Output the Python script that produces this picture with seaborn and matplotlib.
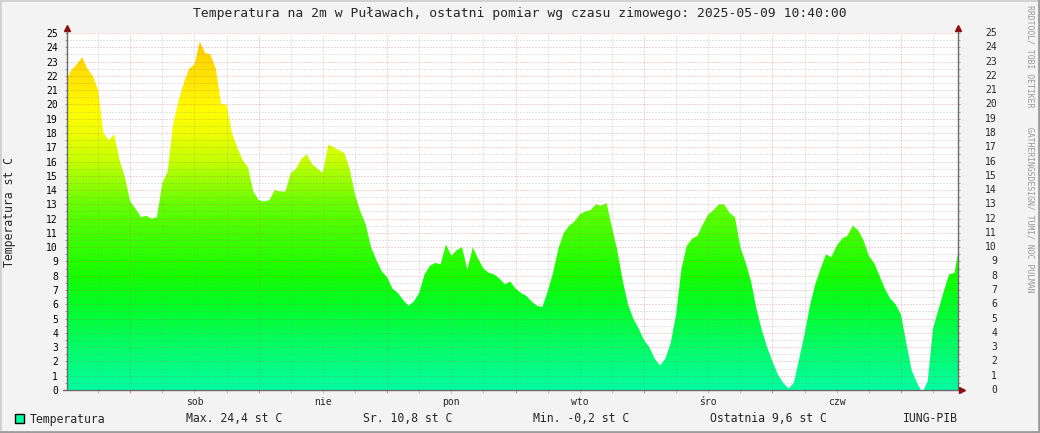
import numpy as np
import pandas as pd
import matplotlib
matplotlib.use("Agg")
import matplotlib.pyplot as plt
import matplotlib.transforms as mtransforms
from matplotlib.colors import LinearSegmentedColormap
from matplotlib.lines import Line2D
from matplotlib.patches import Rectangle
import seaborn as sns

# hourly temperature readings (st C), Fri 12:00 -> Fri 10:00, plus last reading at 10:40
fri_pm = [21.7, 22.4, 22.8, 23.3, 22.5, 22.0, 21.0, 18.0, 17.5, 17.9, 16.1, 14.9]
sat = [13.2, 12.7, 12.1, 12.2, 12.0, 12.1, 14.5, 15.3, 18.6, 20.2, 21.5, 22.5,
       22.8, 24.4, 23.6, 23.5, 22.5, 20.0, 20.0, 18.0, 17.0, 16.1, 15.6, 13.9]
sun = [13.3, 13.2, 13.3, 14.0, 13.9, 13.9, 15.2, 15.5, 16.2, 16.5, 15.8, 15.5,
       15.2, 17.2, 17.0, 16.8, 16.6, 15.5, 13.7, 12.5, 11.6, 10.0, 9.1, 8.3]
mon = [7.9, 7.1, 6.8, 6.3, 5.9, 6.2, 6.8, 8.1, 8.7, 8.9, 8.8, 10.2,
       9.4, 9.8, 10.0, 8.4, 10.0, 9.2, 8.5, 8.2, 8.1, 7.8, 7.4, 7.6]
tue = [7.1, 6.8, 6.6, 6.2, 5.9, 5.8, 6.9, 8.2, 9.9, 11.0, 11.5, 11.8,
       12.3, 12.5, 12.6, 13.0, 12.9, 13.1, 11.4, 9.8, 7.7, 6.0, 5.0, 4.3]
wed = [3.5, 3.0, 2.2, 1.7, 2.2, 3.3, 5.3, 8.5, 10.1, 10.6, 10.8, 11.6,
       12.3, 12.6, 13.0, 13.0, 12.4, 12.1, 10.0, 8.9, 7.6, 5.7, 4.2, 3.0]
thu = [2.0, 1.1, 0.5, 0.1, 0.5, 2.2, 3.9, 5.9, 7.4, 8.5, 9.5, 9.3,
       10.1, 10.6, 10.8, 11.5, 11.2, 10.5, 9.4, 8.9, 8.0, 7.1, 6.4, 6.0]
fri_am = [5.3, 3.3, 1.4, 0.5, -0.2, 0.6, 4.3, 5.6, 6.9, 8.1, 8.2]
last_time = "2025-05-09 10:40"
last_temp = 9.6

day_labels = ["sob", "nie", "pon", "wto", "śro", "czw"]
y_ticks = list(range(0, 26))

title = "Temperatura na 2m w Puławach, ostatni pomiar wg czasu zimowego: 2025-05-09 10:40:00"
legend_items = [("Temperatura", 30), ("Max. 24,4 st C", 186), ("Sr. 10,8 st C", 363),
                ("Min. -0,2 st C", 533), ("Ostatnia 9,6 st C", 710), ("IUNG-PIB", 903)]

temps = fri_pm + sat + sun + mon + tue + wed + thu + fri_am + [last_temp]
times = pd.date_range("2025-05-02 12:00", periods=len(temps) - 1, freq="h")
times = times.append(pd.DatetimeIndex([last_time]))
sat_midnight = pd.Timestamp("2025-05-03 00:00")
hours = np.asarray((times - sat_midnight) / pd.Timedelta(hours=1))
df = pd.DataFrame({"h": hours, "t": temps})

sns.set_theme(style="white")
plt.rcParams["font.family"] = ["DejaVu Sans Mono", "DejaVu Sans"]

W, H = 1040, 433
fig = plt.figure(figsize=(W / 100, H / 100), dpi=100, facecolor="#f3f3f3")
L, R, T, B = 67, 958, 33, 390
ax = fig.add_axes([L / W, 1 - B / H, (R - L) / W, (B - T) / H])
ax.set_facecolor("white")

x0 = (pd.Timestamp("2025-05-02 12:11") - sat_midnight) / pd.Timedelta(hours=1)
x1 = hours[-1]

sns.lineplot(data=df, x="h", y="t", ax=ax, linewidth=0)

# gradient fill clipped to the area under the curve
cmap = LinearSegmentedColormap.from_list("temp", [
    (0 / 25, "#00ffa0"), (3 / 25, "#00ff66"), (6 / 25, "#00ff22"), (8 / 25, "#14ff00"),
    (11 / 25, "#44ff00"), (13 / 25, "#66ff00"), (16 / 25, "#c4ff00"), (18 / 25, "#eeff00"),
    (19.5 / 25, "#ffff00"), (21 / 25, "#ffee00"), (23 / 25, "#ffd800"), (25 / 25, "#ffc800")])
poly = ax.fill_between(df["h"], df["t"], -1, color="none", lw=0)
grad = np.linspace(0, 1, 500).reshape(-1, 1)
img = ax.imshow(grad, extent=[x0, x1, 0, 25], origin="lower", aspect="auto",
                cmap=cmap, interpolation="nearest", zorder=1)
img.set_clip_path(poly.get_paths()[0], transform=ax.transData)

ax.set_xlim(x0, x1)
ax.set_ylim(0, 25)
ax.set_xlabel("")
ax.set_ylabel("")

# grid
ax.set_xticks(np.arange(0, 145, 24))
ax.set_xticks(np.arange(-6, 155, 6), minor=True)
ax.set_yticks(y_ticks)
ax.set_yticks(np.arange(0.5, 25, 1), minor=True)
ax.set_xticklabels([])
ax.set_axisbelow(False)
ax.grid(which="major", color="#cc5555", alpha=0.5, lw=0.72, ls=(0, (1, 2)), zorder=3)
ax.grid(which="minor", color="#888888", alpha=0.45, lw=0.72, ls=(0, (1, 2)), zorder=3)
ax.tick_params(axis="x", which="major", direction="out", length=2.5, width=0.72,
               color="#e08080", bottom=True)
ax.tick_params(axis="x", which="minor", direction="out", length=2.5, width=0.72,
               color="#bbbbbb", bottom=True)
ax.tick_params(axis="y", which="both", direction="out", length=1.5, width=0.72,
               color="#999999", left=True, right=True, labelsize=7, pad=5,
               labelcolor="black")
for s in ax.spines.values():
    s.set_visible(False)

# right side labels
tr = mtransforms.blended_transform_factory(fig.transFigure, ax.transData)
for v in y_ticks:
    ax.text(997 / W, v, str(v), transform=tr, ha="right", va="center", fontsize=7)

# axis lines with arrows
ac = "#6a6a6a"
ext = 5 / (B - T)
ax.plot([0, 0], [0, 1 + ext], transform=ax.transAxes, color=ac, lw=1, clip_on=False, zorder=5)
ax.plot([1, 1], [0, 1 + ext], transform=ax.transAxes, color=ac, lw=1, clip_on=False, zorder=5)
ax.plot([-4 / (R - L), 1 + 3 / (R - L)], [0, 0], transform=ax.transAxes, color=ac, lw=1,
        clip_on=False, zorder=5)
for xa in (0, 1):
    ax.plot([xa], [1 + ext], marker="^", ms=4.5, color="#8b1010", transform=ax.transAxes,
            clip_on=False, zorder=6)
ax.plot([1 + 4 / (R - L)], [0], marker=">", ms=4.5, color="#8b1010", transform=ax.transAxes,
        clip_on=False, zorder=6)

# day labels at noon
dtr = mtransforms.blended_transform_factory(ax.transData, fig.transFigure)
for i, lab in enumerate(day_labels):
    ax.text(12 + 24 * i, 1 - 402 / H, lab, transform=dtr, ha="center", va="center", fontsize=7)

fig.text(0.5, 1 - 13 / H, title, ha="center", va="center", fontsize=9.4)
fig.text(10 / W, 1 - 212 / H, "Temperatura st C", rotation=90, ha="center", va="center",
         fontsize=8.3)
fig.text(1030 / W, 1 - 5 / H, "RRDTOOL/ TOBI OETIKER    GATHERINGSDESIGN/ TUMI/ NOC PULMAN",
         rotation=270, ha="center", va="top", fontsize=5.9, color="#9a9a9a")

for txt, xp in legend_items:
    fig.text(xp / W, 1 - 419 / H, txt, ha="left", va="center", fontsize=8.3)
fig.add_artist(Rectangle((15 / W, 1 - 423 / H), 9 / W, 9 / H, transform=fig.transFigure,
                         facecolor="#00ffa0", edgecolor="black", lw=1))

# frame
fig.add_artist(Line2D([0, 1], [1 - 0.5 / H, 1 - 0.5 / H], transform=fig.transFigure,
                      color="#d2d2d2", lw=1.4))
fig.add_artist(Line2D([0.5 / W, 0.5 / W], [0, 1], transform=fig.transFigure,
                      color="#d2d2d2", lw=1.4))
fig.add_artist(Line2D([0, 1], [1 / H, 1 / H], transform=fig.transFigure,
                      color="#9c9c9c", lw=2))
fig.add_artist(Line2D([1 - 1 / W, 1 - 1 / W], [0, 1], transform=fig.transFigure,
                      color="#9c9c9c", lw=2))

fig.savefig("out.png", dpi=100, facecolor=fig.get_facecolor())
